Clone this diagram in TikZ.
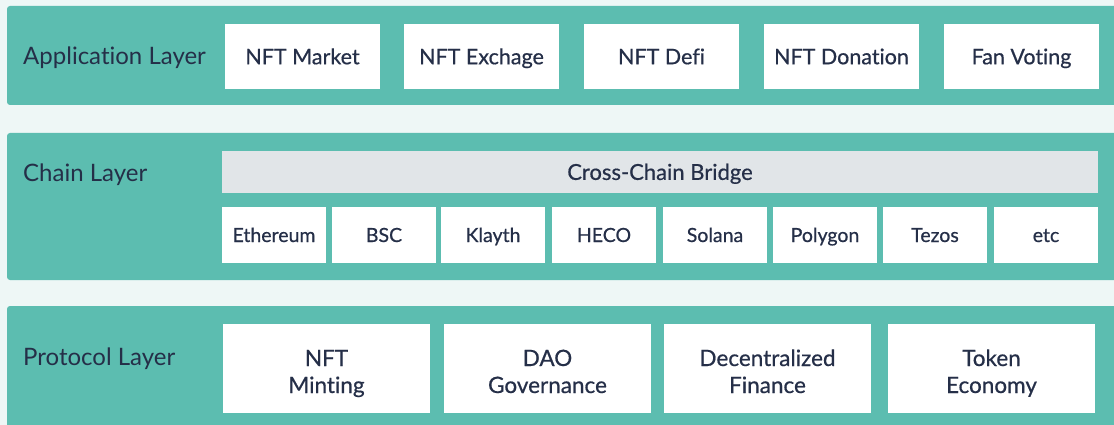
\documentclass[tikz,border=0pt]{standalone}
\usepackage{fontspec}
\setmainfont{Lato}[Ligatures=NoCommon]
\newfontfamily\medfont[FakeBold=0.6,Ligatures=NoCommon]{Lato}
\definecolor{bgc}{HTML}{EEF7F6}
\definecolor{teal}{HTML}{5CBDB0}
\definecolor{ink}{HTML}{252F48}
\definecolor{bridgec}{HTML}{E1E5E8}
\tikzset{
  panel/.style={fill=teal, rounded corners=3pt},
  layerlabel/.style={anchor=west, text=ink, inner sep=0pt, text height=17.3pt, text depth=0pt, font=\fontsize{24}{28}\selectfont},
  appbox/.style={fill=white, text=ink, inner sep=0pt, minimum width=155pt, minimum height=65pt, text height=15.5pt, text depth=0pt, font=\medfont\fontsize{21.5}{25}\selectfont},
  chainbox/.style={fill=white, text=ink, inner sep=0pt, minimum width=104pt, minimum height=56pt, text height=14pt, text depth=0pt, font=\medfont\fontsize{19.5}{22}\selectfont},
  bridgebox/.style={fill=bridgec, text=ink, inner sep=0pt, minimum width=876pt, minimum height=42pt, text height=15.8pt, text depth=0pt, font=\medfont\fontsize{22}{24}\selectfont},
  protobox/.style={fill=white, text=ink, inner sep=0pt, minimum width=207pt, minimum height=89pt, align=center, text height=49pt, text depth=0pt, font=\medfont\fontsize{22.5}{27}\selectfont}
}
\begin{document}
\begin{tikzpicture}[x=1pt,y=-1pt]
\useasboundingbox (0,0) rectangle (1114,425);
\clip (0,0) rectangle (1114,425);
\fill[bgc] (0,0) rectangle (1114,425);
% panels
\fill[panel] (7,6) rectangle (1130,105);
\fill[panel] (7,133) rectangle (1130,280);
\fill[panel] (7,306) rectangle (1130,440);
% labels
\node[layerlabel] (lapp) at (23,56) {Application Layer};
\node[layerlabel] (lchain) at (23,173) {Chain Layer};
\node[layerlabel] (lproto) at (23,357) {Protocol Layer};
% application boxes
\node[appbox] (market) at (302.5,56.5) {NFT Market};
\node[appbox] (exch) at (481.5,56.5) {NFT Exchage};
\node[appbox] (defi) at (661.5,56.5) {NFT Defi};
\node[appbox] (donat) at (841.5,56.5) {NFT Donation};
\node[appbox] (fan) at (1021.5,56.5) {Fan Voting};
% chain layer
\node[bridgebox] (bridge) at (660,172) {Cross-Chain Bridge};
\node[chainbox] (eth) at (274,235) {Ethereum};
\node[chainbox] (bsc) at (384,235) {BSC};
\node[chainbox] (klay) at (493,235) {Klayth};
\node[chainbox] (heco) at (604,235) {HECO};
\node[chainbox] (sol) at (715,235) {Solana};
\node[chainbox] (poly) at (825,235) {Polygon};
\node[chainbox] (tez) at (935,235) {Tezos};
\node[chainbox] (etc) at (1046,235) {etc};
% protocol boxes
\node[protobox] (mint) at (326.5,368.5) {NFT\\Minting};
\node[protobox] (dao) at (547.5,368.5) {DAO\\Governance};
\node[protobox] (dfin) at (767.5,368.5) {Decentralized\\Finance};
\node[protobox] (token) at (991.5,368.5) {Token\\Economy};
\end{tikzpicture}
\end{document}
